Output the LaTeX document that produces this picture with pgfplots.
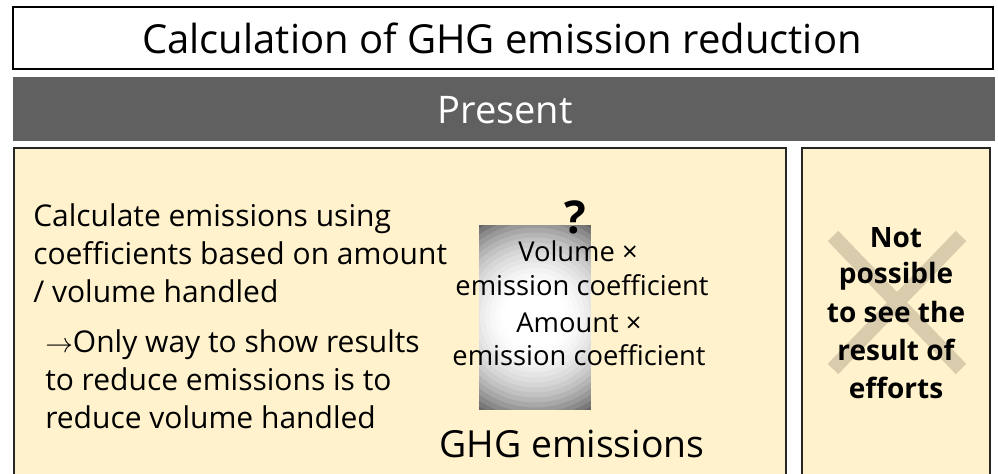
\documentclass[border=0pt]{standalone}
\usepackage{pgfplots}
\pgfplotsset{compat=1.18}
\usepackage{fontspec}
\setmainfont{Open Sans}
\definecolor{cream}{HTML}{FFF2CC}
\definecolor{band}{HTML}{606060}
\definecolor{cross}{HTML}{D9CCAD}
\begin{document}
\begin{tikzpicture}
\begin{axis}[
    x=0.75pt, y=0.75pt,
    y dir=reverse,
    xmin=0, xmax=998, ymin=0, ymax=474,
    hide axis,
    clip=false,
]
% frame of the picture
\addplot[draw=none, fill=white] coordinates {(0,0) (998,0) (998,474) (0,474)} -- cycle;
% title box
\addplot[draw=black, line width=1.3pt, fill=white] coordinates {(13,7) (993,7) (993,69) (13,69)} -- cycle;
% grey band
\addplot[draw=none, fill=band] coordinates {(13,77) (995,77) (995,141) (13,141)} -- cycle;
% left and right panels
\addplot[draw=black!85, line width=1.3pt, fill=cream] coordinates {(14,148) (786,148) (786,485) (14,485)} -- cycle;
\addplot[draw=black!85, line width=1.3pt, fill=cream] coordinates {(802,148) (990,148) (990,485) (802,485)} -- cycle;
% glow: rings of grey round the centre, trimmed to 479..591 x 225..410
\fill[black!60] (axis cs:535,317.5) circle[radius=82.5pt];
\fill[black!53] (axis cs:535,317.5) circle[radius=78.75pt];
\fill[black!46] (axis cs:535,317.5) circle[radius=75pt];
\fill[black!40] (axis cs:535,317.5) circle[radius=71.25pt];
\fill[black!34] (axis cs:535,317.5) circle[radius=67.5pt];
\fill[black!29] (axis cs:535,317.5) circle[radius=63.75pt];
\fill[black!24] (axis cs:535,317.5) circle[radius=60pt];
\fill[black!20] (axis cs:535,317.5) circle[radius=56.25pt];
\fill[black!16] (axis cs:535,317.5) circle[radius=52.5pt];
\fill[black!13] (axis cs:535,317.5) circle[radius=48.75pt];
\fill[black!10] (axis cs:535,317.5) circle[radius=45pt];
\fill[black!7.5] (axis cs:535,317.5) circle[radius=41.25pt];
\fill[black!5] (axis cs:535,317.5) circle[radius=37.5pt];
\fill[black!3] (axis cs:535,317.5) circle[radius=33.75pt];
\fill[black!1.5] (axis cs:535,317.5) circle[radius=30pt];
\fill[black!0.5] (axis cs:535,317.5) circle[radius=26.25pt];
\fill[white] (axis cs:535,317.5) circle[radius=22.5pt];
\addplot[draw=none, fill=cream] coordinates {(424,206) (479,206) (479,429) (424,429)} -- cycle;
\addplot[draw=none, fill=cream] coordinates {(591,206) (646,206) (646,429) (591,429)} -- cycle;
\addplot[draw=none, fill=cream] coordinates {(478,206) (592,206) (592,225) (478,225)} -- cycle;
\addplot[draw=none, fill=cream] coordinates {(478,410) (592,410) (592,429) (478,429)} -- cycle;
% cross
\addplot[draw=cross, line width=11pt] coordinates {(833,236) (961,369)};
\addplot[draw=cross, line width=11pt] coordinates {(961,236) (833,369)};

\node[anchor=base, font=\fontsize{30}{34}\selectfont] at (axis cs:502,54) {Calculation of GHG emission reduction};
\node[anchor=base, font=\fontsize{28.5}{32}\selectfont, text=white] at (axis cs:505,124) {Present};

\begin{scope}[every node/.style={anchor=base west, font=\fontsize{22.5}{27}\selectfont, inner sep=0pt}]
\node at (axis cs:33,226) {Calculate emissions using};
\node at (axis cs:33,264) {coefficients based on amount};
\node at (axis cs:33,302) {/ volume handled};
\node at (axis cs:45,352) {$\rightarrow$Only way to show results};
\node at (axis cs:45,390) {to reduce emissions is to};
\node at (axis cs:45,428) {reduce volume handled};
\end{scope}

\node[anchor=base, font=\bfseries\fontsize{34}{38}\selectfont, inner sep=0pt] at (axis cs:575,233) {?};
\begin{scope}[every node/.style={anchor=base, font=\fontsize{20.5}{25}\selectfont, inner sep=0pt}]
\node at (axis cs:578,261) {Volume ×};
\node at (axis cs:582,295) {emission coefficient};
\node at (axis cs:579,332) {Amount ×};
\node at (axis cs:579,365) {emission coefficient};
\end{scope}
\node[anchor=base, font=\fontsize{28}{32}\selectfont, inner sep=0pt] at (axis cs:572,457) {GHG emissions};

\begin{scope}[every node/.style={anchor=base, font=\bfseries\fontsize{21}{25}\selectfont, inner sep=0pt}]
\node at (axis cs:896,247) {Not};
\node at (axis cs:896,283) {possible};
\node at (axis cs:896,322) {to see the};
\node at (axis cs:896,360) {result of};
\node at (axis cs:896,398) {efforts};
\end{scope}
\end{axis}
\pgfresetboundingbox
\path (current axis.south west) rectangle (current axis.north east);
\end{tikzpicture}
\end{document}
